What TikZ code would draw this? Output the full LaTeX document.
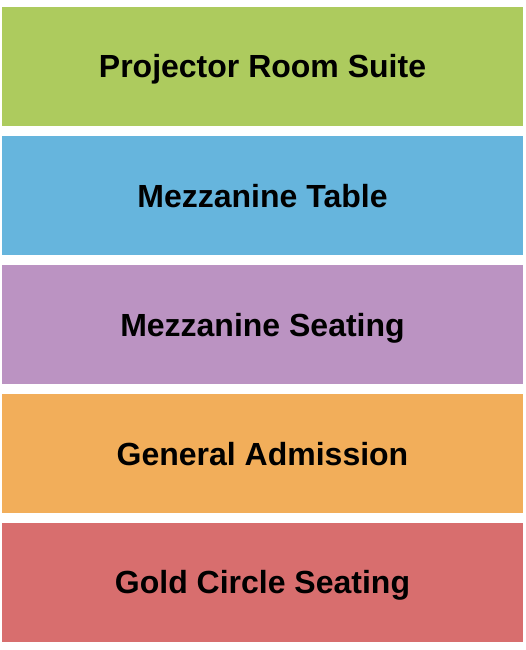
\documentclass[tikz,border=0pt]{standalone}
\usepackage{fontspec}
\setmainfont{Liberation Sans}
\definecolor{cgreen}{RGB}{173,203,94}
\definecolor{cblue}{RGB}{102,181,221}
\definecolor{cpurple}{RGB}{187,147,194}
\definecolor{corange}{RGB}{242,174,90}
\definecolor{cred}{RGB}{216,110,110}
\begin{document}
\begin{tikzpicture}[x=1pt,y=-1pt,
  sect/.style={minimum width=521pt,minimum height=119pt,inner sep=0pt,outer sep=0pt,anchor=north west,
    font=\fontsize{32}{36}\selectfont\bfseries,text=black},
  lbl/.style={inner sep=0pt,text height=23pt,text depth=0pt,
    font=\fontsize{32}{36}\selectfont\bfseries,text=black}]
\useasboundingbox (0,0) rectangle (525,650);
\fill[white] (0,0) rectangle (525,650);
\node[sect,fill=cgreen] (pr) at (2,7) {};
\node[sect,fill=cblue] (mt) at (2,136) {};
\node[sect,fill=cpurple] (ms) at (2,265) {};
\node[sect,fill=corange] (ga) at (2,394) {};
\node[sect,fill=cred] (gc) at (2,522.5) {};
\node[lbl] (prl) at (pr.center) {Projector Room Suite};
\node[lbl] (mtl) at (mt.center) {Mezzanine Table};
\node[lbl] (msl) at (ms.center) {Mezzanine Seating};
\node[lbl] (gal) at (ga.center) {General Admission};
\node[lbl] (gcl) at (gc.center) {Gold Circle Seating};
\end{tikzpicture}
\end{document}
